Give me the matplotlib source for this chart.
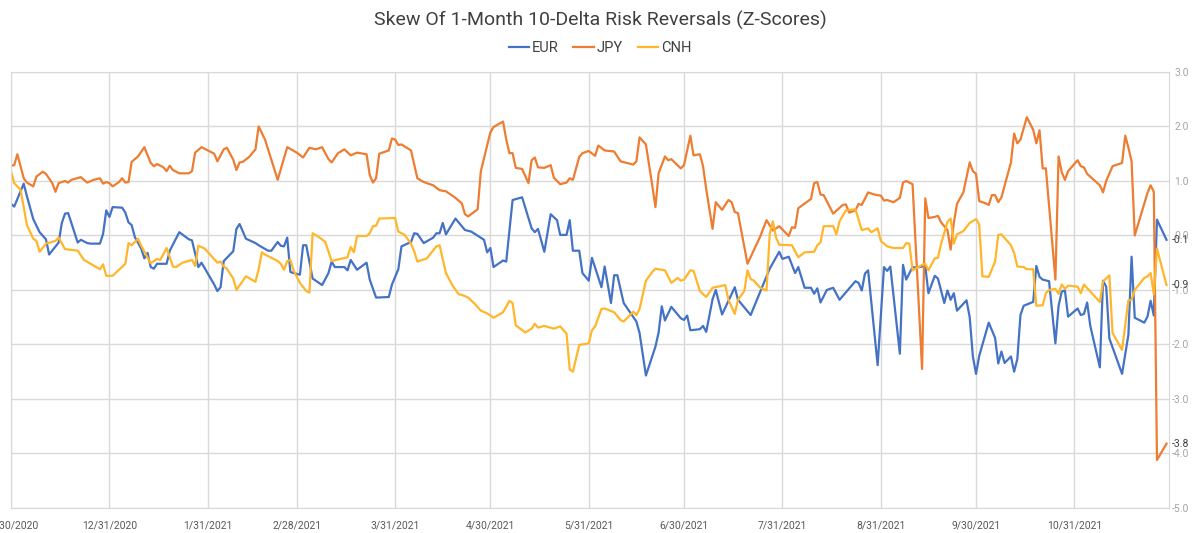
import matplotlib
matplotlib.use("Agg")
import matplotlib.pyplot as plt
from matplotlib.ticker import FuncFormatter, MultipleLocator
import pandas as pd

plt.rcParams["font.family"] = ["Roboto", "DejaVu Sans"]

START = pd.Timestamp("2020-11-30")

# series values, x = days since 2020-11-30
eur_days = [0, 1, 4, 5, 7, 9, 11, 12, 15, 16, 17, 18, 21, 22, 24, 25, 28, 29, 30, 31,
            32, 35, 36, 37, 38, 39, 41, 42, 43, 44, 45, 46, 49, 50, 53, 56, 57, 59, 60, 63,
            64, 65, 66, 67, 70, 71, 72, 74, 77, 78, 81, 82, 84, 85, 86, 87, 88, 89, 91, 92,
            93, 95, 98, 100, 101, 102, 105, 106, 107, 109, 112, 113, 115, 119, 120, 122, 123, 126, 127, 128,
            130, 133, 134, 135, 136, 137, 140, 143, 145, 149, 150, 151, 152, 155, 156, 158, 161, 164, 165, 166,
            168, 170, 172, 173, 175, 176, 177, 179, 180, 182, 183, 186, 187, 189, 190, 191, 193, 197, 198, 200,
            203, 204, 205, 206, 208, 211, 212, 213, 214, 217, 218, 219, 221, 222, 224, 228, 229, 233, 239, 242,
            243, 245, 247, 248, 250, 252, 253, 254, 255, 257, 259, 261, 266, 267, 268, 269, 270, 273, 275, 276,
            277, 280, 281, 282, 284, 285, 286, 288, 289, 291, 292, 294, 295, 296, 297, 298, 301, 302, 303, 304,
            305, 308, 310, 311, 312, 313, 315, 316, 317, 318, 319, 322, 323, 324, 325, 327, 329, 330, 331, 332,
            333, 336, 337, 338, 339, 340, 343, 344, 345, 346, 350, 352, 353, 354, 357, 358, 359, 360, 361, 364]
eur_vals = [0.58, 0.53, 0.95, 0.72, 0.30, 0.06, -0.07, -0.35, -0.13, 0.23, 0.40, 0.41, -0.13, -0.08, -0.14, -0.15, -0.15, 0.03, 0.46, 0.34,
            0.52, 0.51, 0.42, 0.24, 0.19, -0.03, -0.24, -0.42, -0.32, -0.58, -0.61, -0.52, -0.52, -0.28, 0.06, -0.07, -0.09, -0.58, -0.50, -0.80,
            -0.90, -1.02, -0.95, -0.47, -0.29, 0.12, 0.21, -0.06, -0.14, -0.18, -0.28, -0.28, -0.12, -0.19, -0.20, -0.04, -0.67, -0.69, -0.72, -0.18,
            -0.18, -0.79, -0.91, -0.69, -0.48, -0.58, -0.58, -0.64, -0.45, -0.63, -0.50, -0.81, -1.14, -1.13, -0.90, -0.62, -0.20, -0.12, 0.04, 0.03,
            -0.14, -0.04, 0.04, 0.04, 0.23, 0.02, 0.31, 0.10, 0.07, -0.08, -0.31, -0.23, -0.58, -0.46, -0.48, 0.65, 0.70, 0.13, 0.06, 0.12,
            -0.30, 0.39, 0.28, 0.01, 0.01, 0.28, -0.28, -0.28, -0.69, -0.83, -0.41, -0.95, -0.57, -1.24, -0.73, -0.73, -1.24, -1.58, -1.79, -2.57,
            -2.04, -1.78, -1.30, -1.56, -1.31, -1.52, -1.55, -1.47, -1.74, -1.72, -1.66, -1.77, -1.17, -1.00, -1.45, -0.95, -1.18, -1.46, -0.61, -0.30,
            -0.43, -0.39, -0.69, -0.58, -0.96, -0.96, -1.07, -0.97, -1.23, -1.00, -0.96, -1.18, -0.84, -0.87, -1.01, -0.70, -0.64, -2.38, -0.58, -0.65,
            -0.57, -2.17, -0.54, -0.81, -0.58, -0.59, -0.58, -0.56, -1.06, -0.74, -0.79, -1.24, -1.01, -1.18, -1.06, -1.38, -1.19, -1.50, -2.22, -2.54,
            -2.21, -1.60, -1.88, -2.35, -2.13, -2.34, -2.22, -2.50, -2.27, -1.46, -1.29, -1.22, -0.56, -0.76, -0.81, -0.84, -1.98, -1.29, -1.03, -1.01,
            -1.49, -1.34, -1.46, -1.44, -1.23, -1.66, -2.42, -0.83, -0.94, -1.89, -2.54, -1.82, -0.39, -1.51, -1.60, -1.49, -1.20, -1.47, 0.29, -0.08]

jpy_days = [0, 1, 2, 4, 5, 7, 8, 10, 11, 13, 14, 15, 17, 18, 19, 22, 24, 26, 28, 29,
            30, 31, 32, 34, 35, 36, 37, 38, 40, 42, 44, 45, 46, 48, 49, 50, 51, 53, 56, 57,
            58, 60, 64, 65, 67, 68, 70, 71, 72, 73, 75, 77, 78, 80, 82, 84, 87, 90, 92, 94,
            96, 98, 100, 101, 103, 105, 107, 109, 112, 113, 114, 115, 116, 119, 120, 121, 122, 123, 126, 128,
            130, 133, 135, 137, 140, 142, 143, 144, 147, 148, 151, 152, 155, 156, 157, 158, 159, 161, 163, 164,
            165, 166, 168, 170, 171, 173, 175, 176, 177, 179, 180, 182, 184, 185, 187, 190, 191, 192, 194, 196,
            197, 198, 200, 202, 203, 204, 206, 207, 208, 211, 212, 214, 215, 217, 218, 219, 221, 222, 224, 226,
            227, 228, 229, 232, 236, 238, 240, 242, 245, 246, 247, 248, 252, 253, 254, 255, 256, 259, 262, 263,
            264, 266, 267, 268, 270, 272, 274, 275, 276, 278, 280, 281, 282, 284, 287, 288, 289, 291, 292, 293,
            295, 296, 297, 298, 300, 302, 303, 304, 305, 307, 308, 309, 310, 311, 312, 315, 316, 317, 318, 320,
            322, 323, 324, 325, 326, 329, 330, 331, 332, 333, 336, 337, 338, 339, 343, 344, 345, 347, 350, 351,
            352, 353, 354, 358, 359, 360, 361, 364]
jpy_vals = [1.28, 1.29, 1.49, 1.05, 0.97, 0.90, 1.08, 1.17, 1.13, 0.96, 0.80, 0.96, 1.00, 0.97, 1.02, 1.07, 0.97, 1.02, 1.05, 0.95,
            0.98, 0.96, 0.90, 0.98, 1.05, 0.97, 0.98, 1.35, 1.45, 1.62, 1.33, 1.27, 1.31, 1.25, 1.18, 1.28, 1.20, 1.14, 1.14, 1.18,
            1.52, 1.62, 1.50, 1.36, 1.58, 1.61, 1.39, 1.20, 1.34, 1.35, 1.44, 1.58, 2.00, 1.76, 1.39, 1.02, 1.62, 1.52, 1.43, 1.61,
            1.58, 1.62, 1.40, 1.34, 1.51, 1.58, 1.47, 1.52, 1.49, 1.11, 0.97, 1.05, 1.50, 1.56, 1.78, 1.76, 1.66, 1.67, 1.56, 1.05,
            0.98, 0.92, 0.83, 0.81, 0.69, 0.59, 0.39, 0.35, 0.48, 1.18, 1.89, 1.99, 2.09, 1.76, 1.51, 1.51, 1.24, 1.22, 0.96, 1.38,
            1.43, 1.25, 1.24, 1.29, 1.06, 0.94, 0.97, 1.05, 1.02, 1.44, 1.51, 1.55, 1.46, 1.65, 1.56, 1.54, 1.45, 1.36, 1.33, 1.30,
            1.36, 1.80, 1.67, 0.92, 0.52, 1.14, 1.45, 1.38, 1.40, 1.23, 1.29, 1.83, 1.47, 1.49, 1.27, 0.85, 0.12, 0.61, 0.47, 0.65,
            0.61, 0.43, 0.41, -0.52, -0.02, 0.28, 0.09, 0.17, -0.01, 0.15, 0.14, 0.50, 0.67, 0.96, 0.98, 0.75, 0.74, 0.40, 0.56, 0.57,
            0.42, 0.46, 0.58, 0.56, 0.79, 0.75, 0.73, 0.64, 0.65, 0.61, 0.69, 0.97, 1.00, 0.94, -2.45, 0.68, 0.32, 0.34, 0.36, 0.24,
            0.10, -0.26, 0.23, 0.58, 0.79, 1.34, 1.18, 1.13, 0.63, 0.59, 0.56, 0.74, 0.74, 0.61, 0.70, 1.34, 1.87, 1.69, 1.76, 2.17,
            1.94, 1.69, 1.93, 1.23, 1.23, -0.81, 1.45, 1.16, 1.02, 1.18, 1.38, 1.27, 1.25, 1.13, 0.92, 0.79, 1.00, 1.27, 1.33, 1.83,
            1.61, 1.36, 0.00, 0.78, 0.92, 0.80, -4.12, -3.82]

cnh_days = [0, 1, 3, 5, 7, 8, 9, 11, 14, 15, 17, 21, 23, 28, 29, 30, 32, 36, 37, 38,
            40, 41, 44, 46, 47, 49, 51, 52, 54, 57, 58, 59, 61, 65, 66, 67, 68, 70, 71, 74,
            77, 78, 79, 80, 84, 85, 86, 87, 88, 89, 91, 93, 94, 95, 97, 99, 101, 106, 107, 108,
            109, 112, 113, 114, 115, 116, 121, 122, 124, 126, 127, 128, 131, 134, 135, 137, 139, 141, 142, 144,
            146, 148, 150, 152, 155, 157, 158, 159, 162, 164, 165, 166, 168, 171, 173, 175, 176, 177, 179, 182,
            183, 184, 186, 187, 190, 192, 193, 196, 197, 198, 200, 202, 203, 206, 208, 210, 211, 212, 214, 215,
            217, 219, 221, 225, 226, 228, 229, 231, 232, 233, 234, 236, 238, 239, 240, 241, 242, 246, 248, 250,
            253, 254, 255, 256, 259, 260, 261, 263, 266, 268, 270, 271, 273, 274, 276, 278, 281, 282, 283, 284,
            287, 288, 289, 291, 292, 293, 295, 296, 297, 298, 300, 302, 304, 305, 306, 308, 310, 311, 312, 315,
            316, 317, 319, 320, 322, 323, 325, 326, 327, 329, 330, 331, 332, 333, 336, 337, 338, 340, 343, 344,
            346, 347, 350, 352, 353, 354, 357, 358, 359, 360, 361, 364]
cnh_vals = [1.18, 0.96, 0.84, 0.19, -0.06, -0.10, -0.30, -0.15, -0.10, -0.04, -0.25, -0.28, -0.45, -0.62, -0.53, -0.74, -0.74, -0.52, -0.14, -0.18,
            -0.06, -0.19, -0.51, -0.43, -0.45, -0.23, -0.57, -0.58, -0.50, -0.45, -0.56, -0.19, -0.24, -0.50, -0.48, -0.57, -0.61, -0.79, -1.00, -0.75,
            -0.85, -0.62, -0.31, -0.35, -0.47, -0.52, -0.63, -0.47, -0.45, -0.64, -0.87, -1.02, -1.05, 0.04, -0.03, -0.12, -0.47, -0.40, -0.21, -0.31,
            -0.01, -0.01, 0.04, 0.17, 0.18, 0.31, 0.32, 0.07, 0.01, -0.15, -0.29, -0.48, -0.42, -0.20, -0.18, -0.69, -0.91, -1.08, -1.09, -1.14,
            -1.25, -1.38, -1.43, -1.51, -1.41, -1.20, -1.24, -1.65, -1.78, -1.71, -1.62, -1.69, -1.66, -1.71, -1.67, -1.80, -2.46, -2.50, -2.01, -1.98,
            -1.74, -1.67, -1.35, -1.34, -1.41, -1.55, -1.58, -1.40, -1.46, -1.35, -0.83, -0.67, -0.61, -0.64, -0.87, -0.78, -0.83, -0.81, -0.64, -0.65,
            -1.02, -1.13, -0.96, -0.91, -1.18, -1.44, -1.18, -1.02, -0.64, -0.80, -0.83, -0.96, -1.01, 0.03, 0.26, -0.04, -0.17, -0.18, -0.40, -0.31,
            -0.30, -0.18, -0.13, 0.17, 0.17, 0.02, 0.26, 0.46, 0.48, 0.10, 0.13, 0.06, 0.13, -0.10, -0.20, -0.23, -0.23, -0.14, -0.15, -0.64,
            -0.54, -0.52, -0.64, -0.42, -0.41, -0.15, 0.25, 0.31, -0.15, 0.02, 0.08, 0.23, 0.30, 0.20, -0.75, -0.76, -0.48, 0.01, 0.02, -0.18,
            -0.32, -0.57, -0.58, -0.62, -0.62, -1.29, -1.28, -1.06, -1.00, -0.98, -1.07, -0.90, -0.98, -0.92, -0.94, -1.06, -0.90, -1.03, -1.22, -0.85,
            -0.73, -1.79, -2.10, -1.19, -1.18, -1.00, -0.78, -0.75, -0.69, -1.08, -0.24, -0.91]

month_ends = ["2020-11-30", "2020-12-31", "2021-01-31", "2021-02-28", "2021-03-31", "2021-04-30",
              "2021-05-31", "2021-06-30", "2021-07-31", "2021-08-31", "2021-09-30", "2021-10-31"]

series = [("EUR", eur_days, eur_vals, "#4472C4"),
          ("JPY", jpy_days, jpy_vals, "#ED7D31"),
          ("CNH", cnh_days, cnh_vals, "#FFB62B")]


def to_dates(days):
    return START + pd.to_timedelta(days, unit="D")


fig = plt.figure(figsize=(12, 5.33), dpi=100)
ax = fig.add_axes([0.0092, 0.047, 0.9650, 0.818])

for name, days, vals, color in series:
    ax.plot(to_dates(days), vals, color=color, lw=1.6, label=name)

ticks = pd.to_datetime(month_ends)
ax.set_xticks(ticks)
ax.set_xticklabels([f"{d.month}/{d.day}/{d.year}" for d in ticks])
ax.set_xlim(START, START + pd.Timedelta(days=364.8))

ax.set_ylim(-5, 3)
ax.yaxis.set_major_locator(MultipleLocator(1))
ax.yaxis.set_major_formatter(FuncFormatter(lambda v, _: f"{v:.1f}"))
ax.yaxis.tick_right()

ax.grid(True, color="#D9D9D9", lw=1)
ax.set_axisbelow(True)
for s in ax.spines.values():
    s.set_color("#D9D9D9")

ax.tick_params(axis="x", length=0, pad=9, labelsize=7.5, labelcolor="#595959")
ax.tick_params(axis="y", length=0, pad=14.4, labelsize=7.5, labelcolor="#A6A6A6")
for lbl in ax.get_yticklabels():
    lbl.set_horizontalalignment("right")

# last-value labels on the right
for name, days, vals, color in series:
    ax.annotate(f"{vals[-1]:.1f}", xy=(1, vals[-1]), xycoords=("axes fraction", "data"),
                xytext=(14.4, 0), textcoords="offset points", ha="right", va="center",
                fontsize=7.5, color="#404040")

fig.suptitle("Skew Of 1-Month 10-Delta Risk Reversals (Z-Scores)", y=0.962, va="center",
             fontsize=14, color="#404040")
fig.legend(loc="center", bbox_to_anchor=(0.5, 0.91), ncol=3, frameon=False, fontsize=10.5,
           handlelength=1.4, handletextpad=0.2, columnspacing=1.0, labelcolor="#404040")

fig.savefig("out.png", dpi=100)
